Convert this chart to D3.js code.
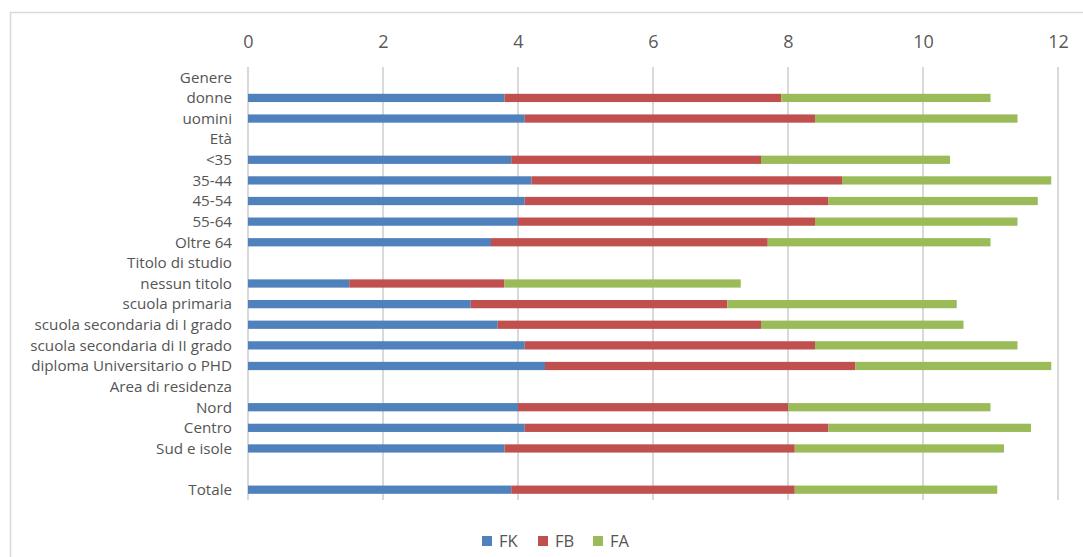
<!DOCTYPE html>
<html>
<head>
<meta charset="utf-8">
<script src="https://cdn.jsdelivr.net/npm/d3@7"></script>
<style>
  html, body { margin: 0; padding: 0; background: #fff; }
  svg { display: block; }
</style>
</head>
<body>
<svg id="chart" width="1083" height="557"></svg>
<script>
const categories = ["Genere", "donne", "uomini", "Età", "<35", "35-44", "45-54", "55-64", "Oltre 64",
  "Titolo di studio", "nessun titolo", "scuola primaria ", "scuola secondaria di I grado",
  "scuola secondaria di II grado", "diploma Universitario o PHD", "Area di residenza",
  "Nord", "Centro", "Sud e isole", "", "Totale"];
const FK = [null, 3.8, 4.1, null, 3.9, 4.2, 4.1, 4.0, 3.6, null, 1.5, 3.3, 3.7, 4.1, 4.4, null, 4.0, 4.1, 3.8, null, 3.9];
const FB = [null, 4.1, 4.3, null, 3.7, 4.6, 4.5, 4.4, 4.1, null, 2.3, 3.8, 3.9, 4.3, 4.6, null, 4.0, 4.5, 4.3, null, 4.2];
const FA = [null, 3.1, 3.0, null, 2.8, 3.1, 3.1, 3.0, 3.3, null, 3.5, 3.4, 3.0, 3.0, 2.9, null, 3.0, 3.0, 3.1, null, 3.0];
const seriesNames = ["FK", "FB", "FA"];
const tickValues = [0, 2, 4, 6, 8, 10, 12];
const colors = ["#4f81bd", "#c0504d", "#9bbb59"];

const svg = d3.select("#chart");
const rowKeys = categories.map((c, i) => i);
const table = rowKeys.map(i => ({ i, FK: FK[i] || 0, FB: FB[i] || 0, FA: FA[i] || 0, has: FK[i] != null }));

// frame
svg.append("rect").attr("x", 10.5).attr("y", 12.5).attr("width", 1090).attr("height", 570)
  .attr("fill", "none").attr("stroke", "#d9d9d9").attr("stroke-width", 1.5);

const x = d3.scaleLinear().domain([0, 12]).range([248, 1058]);
const y = d3.scaleBand().domain(rowKeys).range([67, 500]).paddingInner(0.6).paddingOuter(0.3);

// grid
svg.append("g").selectAll("line").data(tickValues).join("line")
  .attr("x1", d => x(d)).attr("x2", d => x(d))
  .attr("y1", 67).attr("y2", 500)
  .attr("stroke", "#d9d9d9").attr("stroke-width", 2);

// top axis
const axis = d3.axisTop(x).tickValues(tickValues).tickSize(0).tickPadding(0).tickFormat(d3.format("d"));
const gAxis = svg.append("g").attr("transform", "translate(0,48)").call(axis);
gAxis.select(".domain").remove();
gAxis.selectAll("text").attr("fill", "#595959")
  .style("font-family", "'Liberation Sans Narrow', 'Open Sans', sans-serif").style("font-size", "18px");

// stacked bars
const stack = d3.stack().keys(seriesNames);
const stacked = stack(table.filter(d => d.has));
svg.append("g").selectAll("g").data(stacked).join("g")
  .attr("fill", (d, k) => colors[k])
  .selectAll("rect").data(d => d).join("rect")
  .attr("x", d => x(d[0]))
  .attr("width", d => x(d[1]) - x(d[0]))
  .attr("y", d => y(d.data.i))
  .attr("height", y.bandwidth());

// category labels
svg.append("g").selectAll("text").data(rowKeys).join("text")
  .attr("x", 232)
  .attr("y", d => y(d) + y.bandwidth() / 2)
  .attr("dy", "0.35em")
  .attr("text-anchor", "end")
  .attr("fill", "#555555")
  .style("font-family", "'Open Sans', sans-serif").style("font-size", "15.2px")
  .text(d => categories[d]);

// legend
const legendX = [482, 538, 593];
const lg = svg.append("g").selectAll("g").data(seriesNames).join("g")
  .attr("transform", (d, k) => `translate(${legendX[k]},536)`);
lg.append("rect").attr("width", 10).attr("height", 10).attr("fill", (d, k) => colors[k]);
lg.append("text").attr("x", 17).attr("y", 5).attr("dy", "0.36em")
  .attr("fill", "#555555")
  .style("font-family", "'Open Sans', sans-serif").style("font-size", "16.5px")
  .text(d => d);
</script>
</body>
</html>
